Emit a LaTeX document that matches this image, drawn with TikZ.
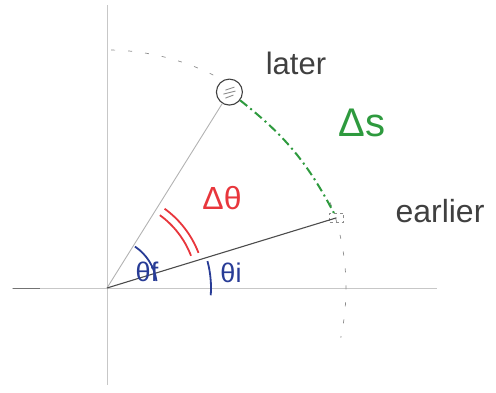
\documentclass[tikz,border=0pt]{standalone}
\usepackage{fontspec}
\setmainfont{Liberation Sans}
\definecolor{penred}{HTML}{E8363C}
\definecolor{pengreen}{HTML}{2E9A3E}
\definecolor{penblue}{HTML}{283C96}
\begin{document}
\begin{tikzpicture}[x=1pt,y=1pt,
  axis/.style={draw=black!22, line width=0.7pt},
  earlyray/.style={draw=black!70, line width=1.1pt},
  lateray/.style={draw=black!30, line width=0.9pt},
  guide/.style={draw=black!45, line width=0.7pt, dash pattern=on 4pt off 13pt},
  pathline/.style={draw=pengreen, line width=2pt, dash pattern=on 9pt off 4pt on 2pt off 4pt},
  word/.style={text=black!75, inner sep=0pt},
  redmark/.style={draw=penred, line width=1.8pt},
  bluemark/.style={draw=penblue, line width=1.8pt},
  ball/.style={circle, draw=black!75, line width=1.1pt, minimum size=26pt, inner sep=0pt},
  tag/.style={draw=black!45, dashed, line width=0.6pt, minimum width=14pt, minimum height=9pt, inner sep=0pt}
]
\useasboundingbox (0,0) rectangle (496,393);
% axes
\coordinate (O) at (107,105);
\coordinate (yt) at (107,388);
\coordinate (yb) at (107,8);
\coordinate (xl) at (12,105);
\coordinate (xr) at (437,105);
\draw[axis] (yb) -- (yt);
\draw[axis] (xl) -- (xr);
\draw[draw=black!55, line width=0.8pt] (13,105) -- (40,105);
% dashed circle of motion
\draw[guide] ([shift={(89:238)}]O) arc[start angle=89, end angle=62, radius=238];
\draw[guide] ([shift={(21:239)}]O) arc[start angle=21, end angle=-12, radius=239];
% positions
\node[ball] (L) at ([shift={(58:231)}]O) {};
\node[tag] (E) at ([shift={(17:240)}]O) {};
\draw[black!45, line width=0.9pt] ([shift={(-4pt,2pt)}]L.center) -- ([shift={(5pt,5pt)}]L.center);
\draw[black!45, line width=0.9pt] ([shift={(-6pt,-2pt)}]L.center) -- ([shift={(6pt,1pt)}]L.center);
\draw[black!45, line width=0.9pt] ([shift={(-4pt,-6pt)}]L.center) -- ([shift={(4pt,-3pt)}]L.center);
% rays
\draw[lateray] (O) -- (L);
\draw[earlyray] (O) -- (E.center);
% path travelled
\draw[pathline] (L) to[bend left=12] (E);
% labels
\node[word, font=\fontsize{31}{34}\selectfont] (later) at (296,330) {later};
\node[word, font=\fontsize{32}{36}\selectfont] (earlier) at (440,182) {earlier};
\node[text=pengreen, font=\fontsize{40}{44}\selectfont, inner sep=0pt] (ds) at (362,270) {Δs};
% angle marks
\draw[redmark] ([shift={(21:90)}]O) arc[start angle=21, end angle=54, radius=90];
\draw[redmark] ([shift={(21:98)}]O) arc[start angle=21, end angle=54, radius=98];
\node[text=penred, font=\fontsize{32}{36}\selectfont, inner sep=0pt] (dth) at (222,195) {Δθ};
\draw[bluemark] ([shift={(8:50)}]O) arc[start angle=8, end angle=56, radius=50];
\node[text=penblue, font=\fontsize{27}{30}\selectfont, inner sep=0pt] (thf) at (147,121) {θf};
\draw[bluemark] ([shift={(-4:104)}]O) arc[start angle=-4, end angle=15, radius=104];
\node[text=penblue, font=\fontsize{27}{30}\selectfont, inner sep=0pt] (thi) at (231,120) {θi};
\end{tikzpicture}
\end{document}
